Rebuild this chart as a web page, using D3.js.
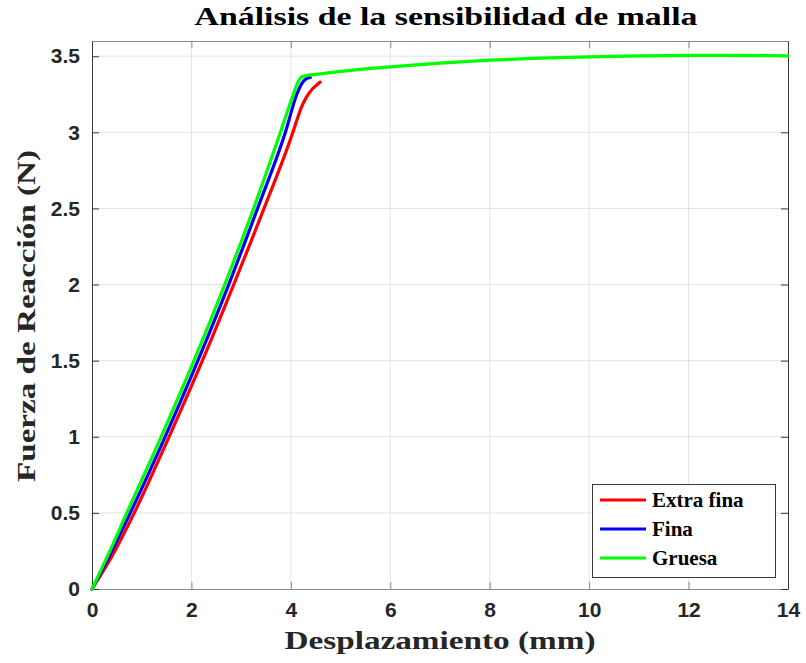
<!DOCTYPE html>
<html>
<head>
<meta charset="utf-8">
<script src="https://cdn.jsdelivr.net/npm/d3@7"></script>
<style>
  html, body { margin: 0; padding: 0; background: #fff; }
  svg { display: block; }
</style>
</head>
<body>
<svg id="chart" width="806" height="663"></svg>
<script>
// Mesh sensitivity: reaction force vs displacement for three mesh sizes
const seriesNames = ["Extra fina", "Fina", "Gruesa"];
const seriesColors = ["#ff0000", "#0000ff", "#00ff00"];

// Extra fina mesh: displacement (mm) and reaction force (N)
const extraFinaX = [0, 0.46, 0.85, 1.55, 2.22, 2.85, 3.46, 4.04, 4.12, 4.22, 4.32, 4.42, 4.50, 4.59];
const extraFinaY = [0, 0.25, 0.5, 1.0, 1.5, 2.0, 2.5, 3.0, 3.08, 3.17, 3.235, 3.28, 3.305, 3.33];

// Fina mesh
const finaX = [0, 0.40, 0.77, 1.47, 2.13, 2.75, 3.33, 3.89, 4.12, 4.22, 4.30, 4.39];
const finaY = [0, 0.25, 0.5, 1.0, 1.5, 2.0, 2.5, 3.0, 3.25, 3.32, 3.35, 3.36];

// Gruesa mesh
const gruesaX = [0, 0.36, 0.70, 1.39, 2.05, 2.67, 3.25, 3.79, 4.05, 4.13, 4.19, 4.27, 4.40, 4.80, 5.40, 6.0, 7.0, 8.0, 9.0, 10.0, 11.0, 12.5, 14.0];
const gruesaY = [0, 0.25, 0.5, 1.0, 1.5, 2.0, 2.5, 3.0, 3.25, 3.32, 3.355, 3.37, 3.377, 3.392, 3.413, 3.43, 3.455, 3.474, 3.487, 3.496, 3.502, 3.506, 3.503];

const xTicks = [0, 2, 4, 6, 8, 10, 12, 14];
const yTicks = [0, 0.5, 1, 1.5, 2, 2.5, 3, 3.5];
const xDomain = [0, 14];
const yDomain = [0, 3.6];

const titleText = "Análisis de la sensibilidad de malla";
const xLabelText = "Desplazamiento (mm)";
const yLabelText = "Fuerza de Reacción (N)";

const svg = d3.select("#chart");
const margin = { left: 92, right: 18, top: 41, bottom: 74 };
const W = 806, H = 663;
const innerW = W - margin.left - margin.right;
const innerH = H - margin.top - margin.bottom;

const x = d3.scaleLinear().domain(xDomain).range([margin.left, margin.left + innerW]);
const y = d3.scaleLinear().domain(yDomain).range([margin.top + innerH, margin.top]);

const serifFont = "'Liberation Serif', 'DejaVu Serif', serif";
const sansFont = "'Liberation Sans', Arial, Helvetica, sans-serif";
const axisColor = "#262626";

// Grid
const grid = svg.append("g").attr("class", "grid");
grid.selectAll("line.vx").data(xTicks.slice(1, -1)).join("line")
  .attr("x1", d => x(d)).attr("x2", d => x(d))
  .attr("y1", y(yDomain[0])).attr("y2", y(yDomain[1]))
  .attr("stroke", "#e3e3e3").attr("stroke-width", 1);
grid.selectAll("line.hy").data(yTicks.slice(1)).join("line")
  .attr("y1", d => y(d)).attr("y2", d => y(d))
  .attr("x1", x(xDomain[0])).attr("x2", x(xDomain[1]))
  .attr("stroke", "#e3e3e3").attr("stroke-width", 1);

// Axes with inward ticks on all four sides
const tickLen = 7;
const bottomAxis = d3.axisBottom(x).tickValues(xTicks).tickSizeInner(-tickLen).tickSizeOuter(0).tickPadding(13).tickFormat(d3.format("d"));
const topAxis = d3.axisTop(x).tickValues(xTicks).tickSizeInner(-tickLen).tickSizeOuter(0).tickFormat("");
const leftAxis = d3.axisLeft(y).tickValues(yTicks).tickSizeInner(-tickLen).tickSizeOuter(0).tickPadding(12).tickFormat(d => d3.format("")(d));
const rightAxis = d3.axisRight(y).tickValues(yTicks).tickSizeInner(-tickLen).tickSizeOuter(0).tickFormat("");

function styleAxis(g, lineColor) {
  g.select(".domain").attr("stroke", lineColor).attr("stroke-width", 1);
  g.selectAll(".tick line").attr("stroke", lineColor).attr("stroke-width", 1);
  g.selectAll(".tick text")
    .attr("font-family", sansFont).attr("font-weight", "bold")
    .attr("font-size", 21).attr("fill", axisColor);
}

svg.append("g").attr("transform", `translate(0,${y(0)})`).call(bottomAxis).call(g => styleAxis(g, "#8a8a8a"));
svg.append("g").attr("transform", `translate(0,${y(yDomain[1])})`).call(topAxis).call(g => styleAxis(g, "#8a8a8a"));
svg.append("g").attr("transform", `translate(${x(0)},0)`).call(leftAxis).call(g => styleAxis(g, "#3a3a3a"));
svg.append("g").attr("transform", `translate(${x(xDomain[1])},0)`).call(rightAxis).call(g => styleAxis(g, "#3a3a3a"));

// Curves
const seriesData = [
  extraFinaX.map((v, i) => [v, extraFinaY[i]]),
  finaX.map((v, i) => [v, finaY[i]]),
  gruesaX.map((v, i) => [v, gruesaY[i]])
];
const line = d3.line().x(d => x(d[0])).y(d => y(d[1])).curve(d3.curveMonotoneX);
const plot = svg.append("g");
seriesData.forEach((pts, i) => {
  plot.append("path").datum(pts)
    .attr("d", line)
    .attr("fill", "none")
    .attr("stroke", seriesColors[i])
    .attr("stroke-width", 3.2)
    .attr("stroke-linejoin", "round")
    .attr("stroke-linecap", "round");
});

// Title and axis labels
svg.append("text").attr("x", 446).attr("y", 25)
  .attr("text-anchor", "middle")
  .attr("font-family", serifFont).attr("font-weight", "bold").attr("font-size", 25)
  .attr("textLength", 503).attr("lengthAdjust", "spacingAndGlyphs")
  .attr("fill", "#000").text(titleText);

svg.append("text").attr("x", 440).attr("y", 649)
  .attr("text-anchor", "middle")
  .attr("font-family", serifFont).attr("font-weight", "bold").attr("font-size", 26)
  .attr("textLength", 311).attr("lengthAdjust", "spacingAndGlyphs")
  .attr("fill", "#262626").text(xLabelText);

svg.append("text")
  .attr("transform", `translate(35,316) rotate(-90)`)
  .attr("text-anchor", "middle")
  .attr("font-family", serifFont).attr("font-weight", "bold").attr("font-size", 26)
  .attr("textLength", 332).attr("lengthAdjust", "spacingAndGlyphs")
  .attr("fill", "#262626").text(yLabelText);

// Legend
const legend = svg.append("g");
legend.append("rect").attr("x", 592.5).attr("y", 484.5).attr("width", 183).attr("height", 93)
  .attr("fill", "#fff").attr("stroke", "#3a3a3a").attr("stroke-width", 1);
seriesNames.forEach((name, i) => {
  const ry = 500 + i * 29;
  legend.append("line").attr("x1", 600).attr("x2", 646).attr("y1", ry).attr("y2", ry)
    .attr("stroke", seriesColors[i]).attr("stroke-width", 3);
  legend.append("text").attr("x", 652).attr("y", ry + 7)
    .attr("font-family", serifFont).attr("font-weight", "bold").attr("font-size", 21)
    .attr("fill", "#000").text(name);
});
</script>
</body>
</html>
